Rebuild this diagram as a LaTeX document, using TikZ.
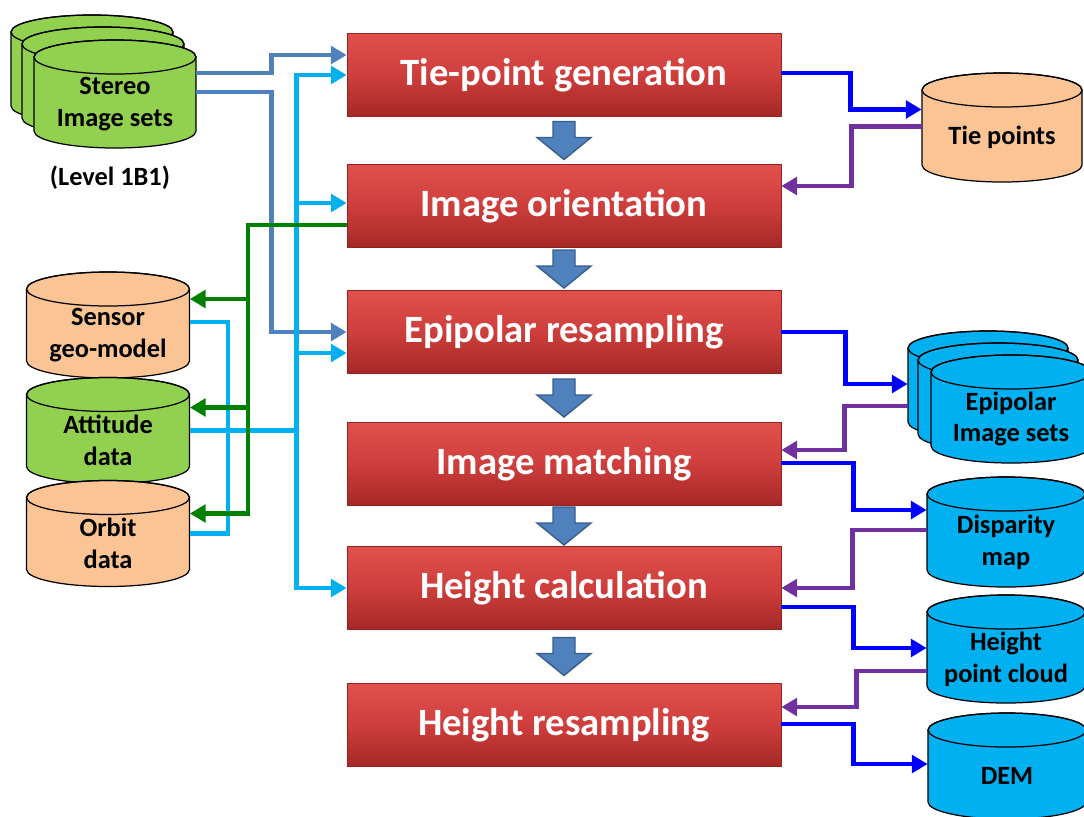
\documentclass[tikz,border=0pt]{standalone}
\usepackage{fontspec}
\setmainfont{Carlito}
\usetikzlibrary{arrows.meta,calc,positioning}

\definecolor{redtop}{RGB}{224,80,77}
\definecolor{redmid}{RGB}{206,62,60}
\definecolor{redbot}{RGB}{164,40,38}
\definecolor{redline}{RGB}{150,34,32}
\definecolor{dbgreen}{RGB}{146,208,80}
\definecolor{dbpeach}{RGB}{250,196,148}
\definecolor{dbcyan}{RGB}{0,176,240}
\definecolor{steel}{RGB}{79,129,189}
\definecolor{steeldark}{RGB}{56,93,138}
\definecolor{skyline}{RGB}{0,176,240}
\definecolor{pureblue}{RGB}{0,0,255}
\definecolor{violet}{RGB}{112,48,160}
\definecolor{darkgreen}{RGB}{0,128,0}

\tikzstyle{stepbox} = [rectangle, draw=redline, line width=0.4pt,
    top color=redtop, bottom color=redbot, middle color=redmid,
    minimum width=8.68cm, minimum height=1.66cm, text=white,
    font=\fontsize{22}{26}\selectfont\bfseries]
\tikzstyle{drum} = [draw=black, line width=0.7pt]
\tikzstyle{dbbox} = [rectangle, inner sep=0pt]
\tikzstyle{dbtext} = [font=\fontsize{15}{18}\selectfont\bfseries, align=center, yshift=-0.2cm]
\tikzstyle{wire} = [line width=2.6pt]
\tikzstyle{link} = [wire, -{Triangle[length=9pt,width=10pt]}]
\tikzstyle{flowarrow} = [fill=steel, draw=steeldark, line width=0.8pt]

% name, centre, width, height, fill, text
\newcommand{\database}[6]{%
    \begin{scope}[shift={(#2)}, x=0.02cm, y=0.02cm]
        \pgfmathsetmacro\hw{#3/2}
        \pgfmathsetmacro\hh{#4/2-17}
        \filldraw[drum, fill=#5] (-\hw,\hh) -- (-\hw,-\hh)
            arc[start angle=180, end angle=360, x radius=\hw, y radius=17]
            -- (\hw,\hh) arc[start angle=0, end angle=180, x radius=\hw, y radius=17] -- cycle;
        \draw[drum] (0,\hh) ellipse[x radius=\hw, y radius=17];
    \end{scope}
    \node[dbbox, minimum width=#3*0.02cm, minimum height=#4*0.02cm,
        label={[dbtext]center:#6}] (#1) at (#2) {};
}

\begin{document}
\begin{tikzpicture}[x=0.02cm, y=-0.02cm]
    \useasboundingbox (0,0) rectangle (1084,816);

    % processing steps
    \node[stepbox] (tiegen) at (564,75) {Tie-point generation};
    \node[stepbox] (orient) at (564,206) {Image orientation};
    \node[stepbox] (epires) at (564,332) {Epipolar resampling};
    \node[stepbox] (match) at (564,464) {Image matching};
    \node[stepbox] (hcalc) at (564,588) {Height calculation};
    \node[stepbox] (hres) at (564,725) {Height resampling};

    \foreach \a/\b in {tiegen/orient, orient/epires, epires/match, match/hcalc, hcalc/hres}
        \draw[flowarrow] ($(\a.south)!0.5!(\b.north)$) ++(-11,-19) -- ++(22,0) -- ++(0,16)
            -- ++(16,0) -- ++(-27,22) -- ++(-27,-22) -- ++(16,0) -- cycle;

    % input data
    \database{stereoback}{92,69}{162}{108}{dbgreen}{}
    \database{stereomid}{103,81}{162}{108}{dbgreen}{}
    \database{stereo}{115,94}{162}{108}{dbgreen}{Stereo\\Image sets}
    \node[font=\fontsize{15}{18}\selectfont\bfseries] (level) at (110,178) {(Level 1B1)};

    \database{sensor}{108,325}{163}{106}{dbpeach}{Sensor\\geo-model}
    \database{attitude}{108,430.5}{163}{106}{dbgreen}{Attitude\\data}
    \database{orbit}{108,533.5}{163}{106}{dbpeach}{Orbit\\data}

    % intermediate and output data
    \database{tiepts}{1002,127.5}{160}{109}{dbpeach}{Tie points}
    \database{epiback}{988,385}{160}{108}{dbcyan}{}
    \database{epimid}{998,397}{160}{108}{dbcyan}{}
    \database{epi}{1011,409}{160}{108}{dbcyan}{Epipolar\\Image sets}
    \database{disp}{1006,532}{158}{110}{dbcyan}{Disparity\\map}
    \database{hpc}{1006,649}{158}{108}{dbcyan}{Height\\point cloud}
    \database{dem}{1007,766}{158}{106}{dbcyan}{DEM}

    % left connectors
    \draw[link, steel] ($(stereo.east)+(0,-21)$) -- ++(75,0) |- ($(tiegen.west)+(0,-20)$);
    \draw[link, steel] ($(stereo.east)+(0,-2)$) -- ++(75,0) |- (epires.west);

    \draw[link, skyline] (attitude.east) -| ($(tiegen.west)+(-50,0)$) -- (tiegen.west);
    \draw[link, skyline] ($(tiegen.west)+(-50,0)$) |- ($(orient.west)+(0,-3)$);
    \draw[link, skyline] ($(tiegen.west)+(-50,0)$) |- ($(epires.west)+(0,21)$);
    \draw[link, skyline] ($(tiegen.west)+(-50,0)$) |- (hcalc.west);
    \draw[wire, skyline] ($(sensor.east)+(0,-3)$) -- ++(38,0) |- (orbit.east);

    \draw[link, darkgreen] ($(orient.west)+(0,19)$) -| ($(orbit.east)+(58,-20)$) -- ($(orbit.east)+(0,-20)$);
    \draw[link, darkgreen] ($(sensor.east)+(58,-26)$) -- ($(sensor.east)+(0,-26)$);
    \draw[link, darkgreen] ($(attitude.east)+(58,-23)$) -- ($(attitude.east)+(0,-23)$);

    % right connectors
    \draw[link, pureblue] ($(tiegen.east)+(0,-2)$) -- ++(69,0) |- ($(tiepts.west)+(0,-18)$);
    \draw[link, violet] ($(tiepts.west)+(0,-1)$) -- ++(-70,0) |- ($(orient.east)+(0,-20)$);
    \draw[link, pureblue] (epires.east) -- ++(64,0) |- ($(epiback.west)+(0,-1)$);
    \draw[link, violet] ($(epiback.west)+(0,21)$) -- ++(-63,0) |- ($(match.east)+(0,-14)$);
    \draw[link, pureblue] ($(match.east)+(0,-1)$) -- ++(72,0) |- ($(disp.west)+(0,-22)$);
    \draw[link, violet] ($(disp.west)+(0,-2)$) -- ++(-74,0) |- (hcalc.east);
    \draw[link, pureblue] ($(hcalc.east)+(0,19)$) -- ++(72,0) |- ($(hpc.west)+(0,-1)$);
    \draw[link, violet] ($(hpc.west)+(0,22)$) -- ++(-70,0) |- ($(hres.east)+(0,-18)$);
    \draw[link, pureblue] ($(hres.east)+(0,-1)$) -- ++(72,0) |- ($(dem.west)+(0,-2)$);
\end{tikzpicture}
\end{document}
